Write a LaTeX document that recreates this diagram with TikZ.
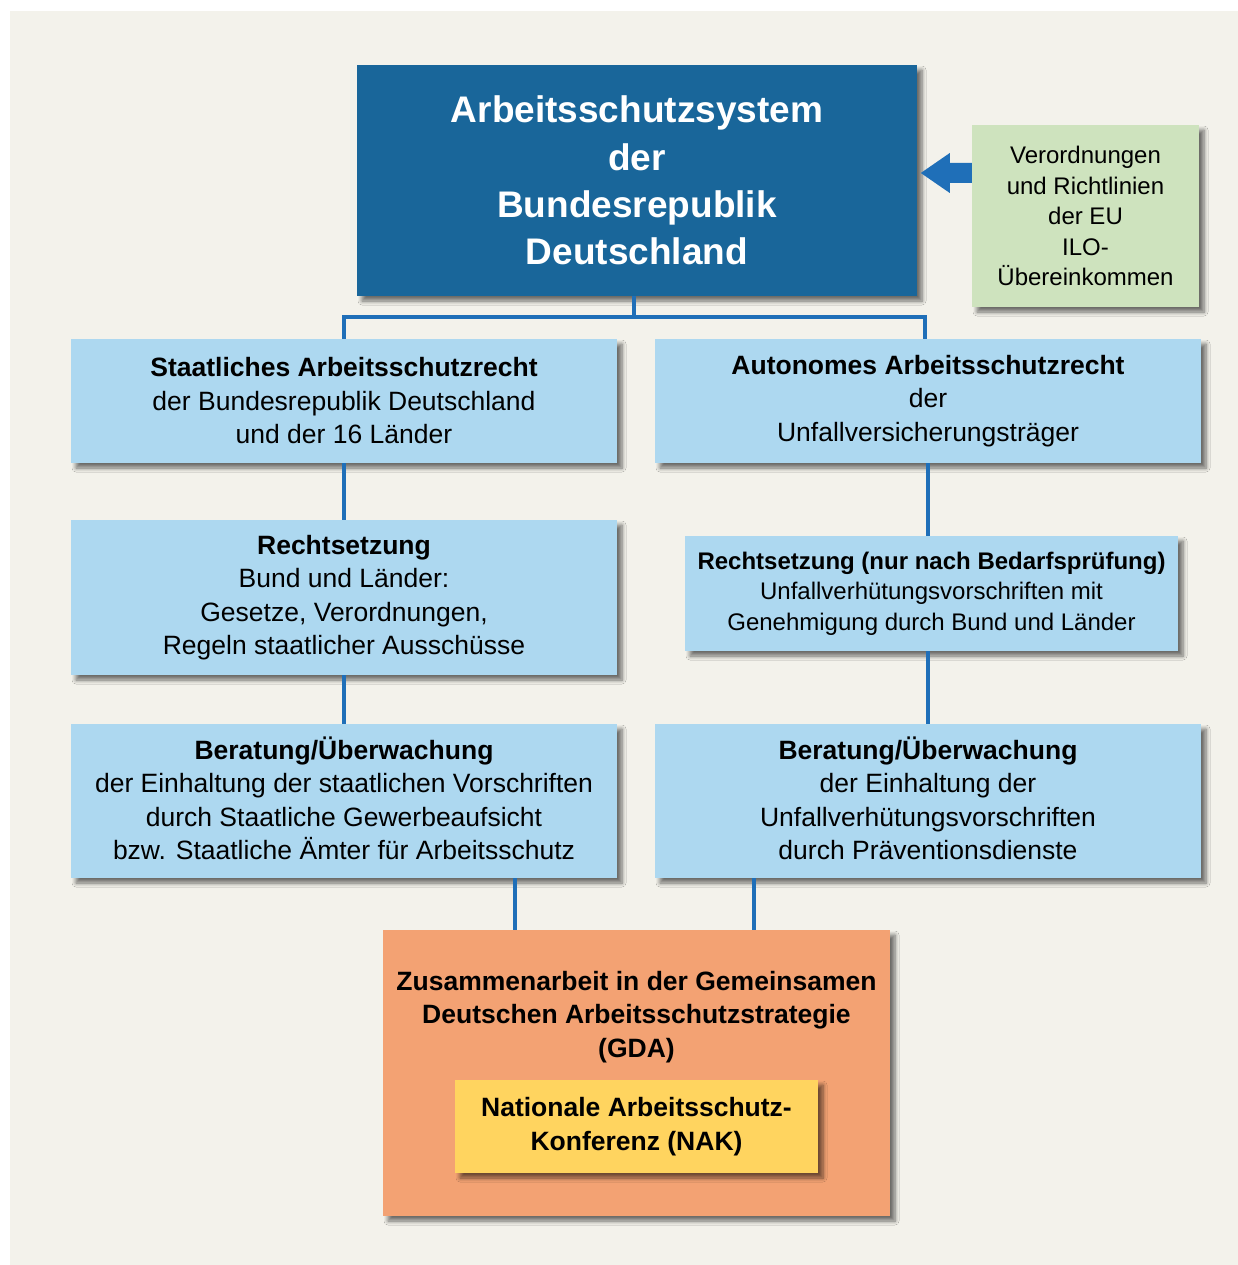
\documentclass[tikz,border=0pt]{standalone}
\usepackage{fontspec}
\setmainfont{Liberation Sans}
\usetikzlibrary{shadows.blur}
\definecolor{bgc}{HTML}{F3F2EB}
\definecolor{titleblue}{HTML}{19669A}
\definecolor{lightblue}{HTML}{ADD8F0}
\definecolor{connblue}{HTML}{1F6FB8}
\definecolor{greenbox}{HTML}{CEE3BE}
\definecolor{orangebox}{HTML}{F3A273}
\definecolor{yellowbox}{HTML}{FFD45F}
\begin{document}
\begin{tikzpicture}[x=1pt,y=-1pt,
  shadowed/.style={blur shadow={shadow xshift=5pt,shadow yshift=-5pt,shadow blur radius=4pt,shadow blur steps=6,shadow opacity=55}},
  box/.style={shadowed,inner sep=0pt,align=center,text=black},
  bluebox/.style={box,fill=lightblue},
  normtext/.style={font=\fontsize{26.5}{33.5}\selectfont},
  smalltext/.style={font=\fontsize{24}{30.5}\selectfont},
  conn/.style={draw=connblue,line width=4pt}]
\useasboundingbox (0,0) rectangle (1238,1265);
\fill[white] (0,0) rectangle (1238,1265);
\fill[bgc] (10,11) rectangle (1238,1265);

% title
\node[box,fill=titleblue,text=white,minimum width=560pt,minimum height=231pt,
  font=\fontsize{37}{47.3}\selectfont\bfseries] (title) at (637,180.5)
  {Arbeitsschutzsystem\\der\\Bundesrepublik\\Deutschland};

% green box
\node[box,fill=greenbox,minimum width=227pt,minimum height=182pt,smalltext] (eu) at (1085.5,216)
  {Verordnungen\\und Richtlinien\\der EU\\ILO-\\Übereinkommen};

% fat arrow
\coordinate (arrbase) at (eu.west |- 0,173);
\fill[connblue] (arrbase) ++(0,-10) -- ++(-22,0) -- ++(0,-10) -- ++(-29,20) -- ++(29,20) -- ++(0,-10) -- ++(22,0) -- cycle;

% row 1
\node[bluebox,minimum width=546pt,minimum height=124pt,normtext] (l1) at (344,401)
  {\textbf{Staatliches Arbeitsschutzrecht}\\der Bundesrepublik Deutschland\\und der 16 Länder};
\node[bluebox,minimum width=546pt,minimum height=124pt,normtext] (r1) at (928,401)
  {\textbf{Autonomes Arbeitsschutzrecht}\\der\\Unfallversicherungsträger};

% row 2
\node[bluebox,minimum width=546pt,minimum height=155pt,normtext] (l2) at (344,597.5)
  {\textbf{Rechtsetzung}\\Bund und Länder:\\Gesetze, Verordnungen,\\Regeln staatlicher Ausschüsse};
\node[bluebox,minimum width=493pt,minimum height=115pt,smalltext] (r2) at (931.5,593.5)
  {\textbf{Rechtsetzung (nur nach Bedarfsprüfung)}\\Unfallverhütungsvorschriften mit\\Genehmigung durch Bund und Länder};

% row 3
\node[bluebox,minimum width=546pt,minimum height=154pt,normtext] (l3) at (344,801)
  {\textbf{Beratung/Überwachung}\\der Einhaltung der staatlichen Vorschriften\\durch Staatliche Gewerbeaufsicht\\bzw. Staatliche Ämter für Arbeitsschutz\rule{0pt}{0pt}\vspace*{5pt}};
\node[bluebox,minimum width=546pt,minimum height=154pt,normtext] (r3) at (928,801)
  {\textbf{Beratung/Überwachung}\\der Einhaltung der\\Unfallverhütungsvorschriften\\durch Präventionsdienste\vspace*{5pt}};

% bottom
\node[box,fill=orangebox,minimum width=507pt,minimum height=286pt] (gda) at (636.5,1073) {};
\node[align=center,inner sep=0pt,font=\fontsize{26.5}{33.5}\selectfont\bfseries] (gdatext) at (636.5,1017)
  {Zusammenarbeit in der Gemeinsamen\\Deutschen Arbeitsschutzstrategie\\(GDA)};
\node[box,fill=yellowbox,minimum width=363pt,minimum height=93pt,font=\fontsize{26.5}{34}\selectfont\bfseries] (nak) at (636.5,1126.5)
  {Nationale Arbeitsschutz-\\Konferenz (NAK)};

% connectors
\draw[conn] (title.south -| 634,0) -- (634,317) -| (l1.north);
\draw[conn] (634,317) -| ([xshift=-3pt]r1.north);
\draw[conn] (l1.south) -- (l2.north);
\draw[conn] (l2.south) -- (l3.north);
\draw[conn] (r1.south) -- (r1.south |- r2.north);
\draw[conn] (r3.north |- r2.south) -- (r3.north);
\draw[conn] ([xshift=171pt]l3.south) -- ([xshift=171pt]l3.south |- gda.north);
\draw[conn] ([xshift=-174pt]r3.south) -- ([xshift=-174pt]r3.south |- gda.north);
\end{tikzpicture}
\end{document}
